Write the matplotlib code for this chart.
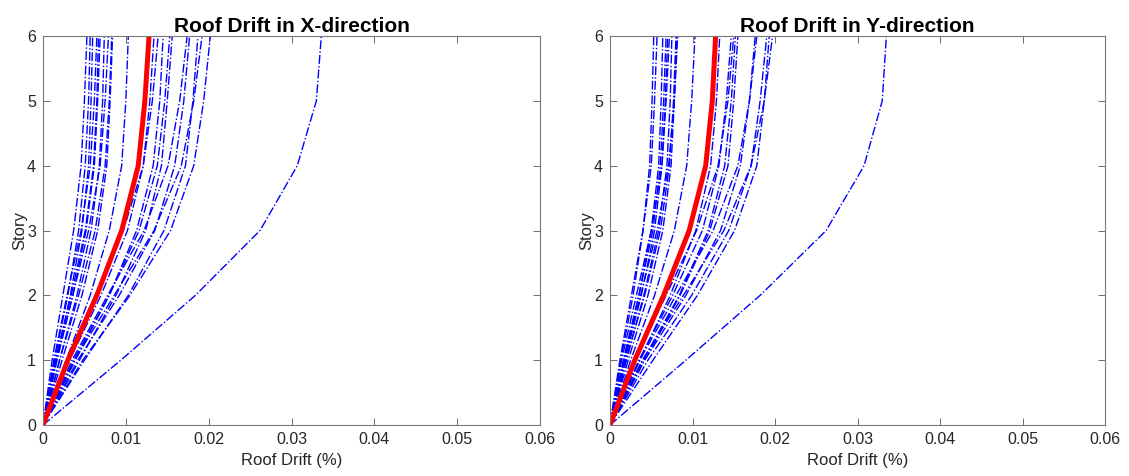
import matplotlib
matplotlib.use("Agg")
import matplotlib.pyplot as plt

plt.rcParams['font.family'] = ['Liberation Sans', 'DejaVu Sans']

stories = [0, 1, 2, 3, 4, 5, 6]

# Left panel (X-direction) individual record drift profiles (stories 1..6)
drift_x = [
    [0.0011, 0.0024, 0.0037, 0.0046, 0.0050, 0.0053],
    [0.0014, 0.0030, 0.0043, 0.0051, 0.0055, 0.0057],
    [0.0016, 0.0033, 0.0047, 0.0055, 0.0058, 0.0060],
    [0.0013, 0.0029, 0.0046, 0.0057, 0.0062, 0.0065],
    [0.0017, 0.0036, 0.0052, 0.0062, 0.0066, 0.0069],
    [0.0020, 0.0041, 0.0058, 0.0068, 0.0072, 0.0074],
    [0.0016, 0.0036, 0.0055, 0.0069, 0.0075, 0.0079],
    [0.0020, 0.0043, 0.0063, 0.0075, 0.0080, 0.0083],
    [0.0015, 0.0034, 0.0051, 0.0061, 0.0065, 0.0067],
    [0.0023, 0.0047, 0.0066, 0.0077, 0.0081, 0.0084],
    [0.0028, 0.0057, 0.0080, 0.0095, 0.0100, 0.0103],
    [0.0032, 0.0070, 0.0102, 0.0121, 0.0129, 0.0134],
    [0.0028, 0.0063, 0.0097, 0.0121, 0.0132, 0.0139],
    [0.0039, 0.0080, 0.0113, 0.0133, 0.0141, 0.0145],
    [0.0037, 0.0080, 0.0116, 0.0138, 0.0147, 0.0153],
    [0.0044, 0.0088, 0.0124, 0.0143, 0.0150, 0.0156],
    [0.0035, 0.0078, 0.0122, 0.0151, 0.0165, 0.0174],
    [0.0042, 0.0092, 0.0135, 0.0159, 0.0170, 0.0177],
    [0.0050, 0.0103, 0.0146, 0.0172, 0.0181, 0.0187],
    [0.0038, 0.0086, 0.0134, 0.0167, 0.0182, 0.0192],
    [0.0048, 0.0105, 0.0154, 0.0182, 0.0194, 0.0202],
    [0.0094, 0.0184, 0.0262, 0.0307, 0.0330, 0.0336],
]
mean_x = [0.0, 0.0030, 0.0065, 0.0095, 0.0115, 0.0123, 0.0128]

# Right panel (Y-direction)
drift_y = [
    [0.0013, 0.0028, 0.0040, 0.0048, 0.0051, 0.0053],
    [0.0012, 0.0026, 0.0040, 0.0050, 0.0054, 0.0057],
    [0.0017, 0.0035, 0.0050, 0.0059, 0.0062, 0.0064],
    [0.0016, 0.0035, 0.0052, 0.0061, 0.0065, 0.0068],
    [0.0014, 0.0032, 0.0050, 0.0063, 0.0068, 0.0072],
    [0.0020, 0.0041, 0.0059, 0.0069, 0.0073, 0.0075],
    [0.0019, 0.0042, 0.0061, 0.0072, 0.0077, 0.0080],
    [0.0017, 0.0037, 0.0057, 0.0071, 0.0078, 0.0082],
    [0.0018, 0.0038, 0.0054, 0.0063, 0.0067, 0.0070],
    [0.0022, 0.0046, 0.0064, 0.0074, 0.0078, 0.0081],
    [0.0025, 0.0054, 0.0078, 0.0093, 0.0099, 0.0103],
    [0.0036, 0.0073, 0.0104, 0.0122, 0.0129, 0.0133],
    [0.0035, 0.0076, 0.0112, 0.0132, 0.0141, 0.0147],
    [0.0030, 0.0068, 0.0105, 0.0131, 0.0143, 0.0150],
    [0.0042, 0.0085, 0.0121, 0.0143, 0.0150, 0.0155],
    [0.0040, 0.0084, 0.0119, 0.0139, 0.0147, 0.0152],
    [0.0042, 0.0092, 0.0134, 0.0158, 0.0169, 0.0176],
    [0.0036, 0.0080, 0.0125, 0.0155, 0.0169, 0.0178],
    [0.0046, 0.0099, 0.0144, 0.0171, 0.0182, 0.0190],
    [0.0052, 0.0106, 0.0151, 0.0178, 0.0187, 0.0193],
    [0.0039, 0.0089, 0.0138, 0.0171, 0.0187, 0.0197],
    [0.0092, 0.0182, 0.0262, 0.0308, 0.0330, 0.0335],
]
mean_y = [0.0, 0.0030, 0.0065, 0.0096, 0.0116, 0.0124, 0.0128]

titles = ["Roof Drift in X-direction", "Roof Drift in Y-direction"]
xticks = [0, 0.01, 0.02, 0.03, 0.04, 0.05, 0.06]
xticklabels = ["0", "0.01", "0.02", "0.03", "0.04", "0.05", "0.06"]
yticks = [0, 1, 2, 3, 4, 5, 6]

fig = plt.figure(figsize=(11.29, 4.76), dpi=100)
ax1 = fig.add_axes([43/1129, 51/476, 497/1129, 389/476])
ax2 = fig.add_axes([610/1129, 51/476, 495/1129, 389/476])

axcol = '#262626'
for ax, data, mean, title in [(ax1, drift_x, mean_x, titles[0]), (ax2, drift_y, mean_y, titles[1])]:
    for prof in data:
        ax.plot([0.0] + prof, stories, color='#0000ff', linestyle='-.', linewidth=1.0)
    ax.plot(mean, stories, color='#ff0000', linewidth=3.6, solid_capstyle='butt')
    ax.set_xlim(0, 0.06)
    ax.set_ylim(0, 6)
    ax.set_xticks(xticks)
    ax.set_xticklabels(xticklabels)
    ax.set_yticks(yticks)
    ax.tick_params(direction='in', top=True, right=True, length=5, width=0.6,
                   color='#555555', labelcolor=axcol, labelsize=11.5, pad=5)
    for s in ax.spines.values():
        s.set_color('#777777')
        s.set_linewidth(0.8)
    ax.set_title(title, fontsize=15, fontweight='bold', color='black', pad=3)
    ax.set_xlabel("Roof Drift (%)", fontsize=12, color=axcol, labelpad=4)
    ax.set_ylabel("Story", fontsize=12, color=axcol, labelpad=0)

fig.savefig("out.png", dpi=100)
